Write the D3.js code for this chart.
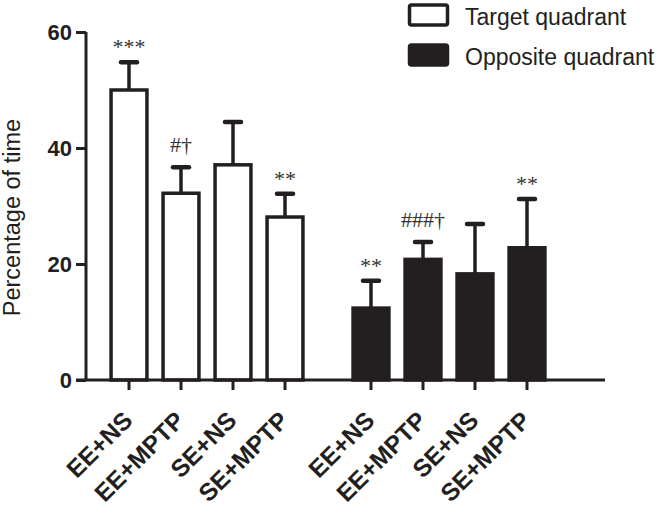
<!DOCTYPE html>
<html>
<head>
  <meta charset="utf-8">
  <script src="https://d3js.org/d3.v7.min.js"></script>
  <style>
    body { margin: 0; background: #fff; }
    svg { font-family: "Liberation Sans", Arial, sans-serif; }
  </style>
</head>
<body>
  <div id="chart"></div>

  <script>
// data
const groups = ["Target quadrant", "Opposite quadrant"];
const categories = ["EE+NS", "EE+MPTP", "SE+NS", "SE+MPTP"];
const targetMeans = [50, 32.2, 37.1, 28.1];
const targetErr = [4.8, 4.5, 7.4, 4.0];
const oppositeMeans = [12.4, 20.8, 18.3, 22.8];
const oppositeErr = [4.7, 3.0, 8.6, 8.4];
const targetMarks = ["***", "#\u2020", "", "**"];
const oppositeMarks = ["**", "###\u2020", "", "**"];
const yTicks = [0, 20, 40, 60];

const rows = [];
groups.forEach((g, gi) => {
  categories.forEach((c, ci) => {
    rows.push({
      group: g,
      cat: c,
      mean: gi === 0 ? targetMeans[ci] : oppositeMeans[ci],
      err: gi === 0 ? targetErr[ci] : oppositeErr[ci],
      mark: gi === 0 ? targetMarks[ci] : oppositeMarks[ci]
    });
  });
});

const width = 656, height = 506;
const axisX = 86, axisY = 380, axisEnd = 605;
const ink = "#231f20";

const svg = d3.select("#chart")
  .append("svg")
  .attr("width", width)
  .attr("height", height);

const y = d3.scaleLinear()
  .domain([0, 60])
  .range([axisY, 32]);

const xGroup = d3.scaleBand()
  .domain(groups)
  .range([103, 553])
  .paddingInner(0.1405)
  .paddingOuter(0);

const xCat = d3.scaleBand()
  .domain(categories)
  .range([0, xGroup.bandwidth()])
  .paddingInner(0.31)
  .paddingOuter(0.155);

const cx = d => xGroup(d.group) + xCat(d.cat) + xCat.bandwidth() / 2;

// bars
svg.selectAll(".bar")
  .data(rows)
  .enter()
  .append("rect")
  .attr("class", "bar")
  .attr("x", d => xGroup(d.group) + xCat(d.cat))
  .attr("y", d => y(d.mean))
  .attr("width", xCat.bandwidth())
  .attr("height", d => y(0) - y(d.mean))
  .attr("fill", d => d.group === groups[0] ? "#fff" : ink)
  .attr("stroke", ink)
  .attr("stroke-width", 3.5);

// error bars (upper only)
svg.selectAll(".err")
  .data(rows)
  .enter()
  .append("line")
  .attr("x1", cx)
  .attr("x2", cx)
  .attr("y1", d => y(d.mean))
  .attr("y2", d => y(d.mean + d.err))
  .attr("stroke", ink)
  .attr("stroke-width", 3.5);

svg.selectAll(".cap")
  .data(rows)
  .enter()
  .append("line")
  .attr("x1", d => cx(d) - 8)
  .attr("x2", d => cx(d) + 8)
  .attr("y1", d => y(d.mean + d.err))
  .attr("y2", d => y(d.mean + d.err))
  .attr("stroke", ink)
  .attr("stroke-width", 4.5)
  .attr("stroke-linecap", "round");

// significance marks
svg.selectAll(".mark")
  .data(rows.filter(d => d.mark))
  .enter()
  .append("text")
  .attr("x", cx)
  .attr("y", d => y(d.mean + d.err) - (d.mark.includes("#") ? 15 : 8))
  .attr("text-anchor", "middle")
  .attr("font-family", "'Liberation Serif', 'DejaVu Serif', serif")
  .attr("font-size", 22)
  .attr("fill", "#333")
  .text(d => d.mark);

// y axis
const yAxis = svg.append("g")
  .attr("transform", `translate(${axisX},0)`)
  .call(d3.axisLeft(y).tickValues(yTicks).tickSize(10).tickPadding(4));
yAxis.select(".domain").attr("d", `M0,${y(60)}V${axisY}`).attr("stroke-width", 3).attr("stroke", ink);
yAxis.selectAll(".tick line").attr("stroke-width", 3).attr("stroke", ink);
yAxis.selectAll(".tick text")
  .attr("font-size", 22)
  .attr("font-weight", "bold")
  .attr("font-family", "'Liberation Sans', Arial, sans-serif")
  .attr("fill", ink)
  .attr("dy", "0.36em");

// x axis
svg.append("line")
  .attr("x1", axisX - 10)
  .attr("x2", axisEnd)
  .attr("y1", axisY)
  .attr("y2", axisY)
  .attr("stroke", ink)
  .attr("stroke-width", 3);

svg.selectAll(".xtick")
  .data(rows)
  .enter()
  .append("line")
  .attr("x1", cx)
  .attr("x2", cx)
  .attr("y1", axisY)
  .attr("y2", axisY + 10)
  .attr("stroke", ink)
  .attr("stroke-width", 3);

svg.selectAll(".xlabel")
  .data(rows)
  .enter()
  .append("text")
  .attr("text-anchor", "end")
  .attr("font-size", 24.5)
  .attr("font-weight", "bold")
  .attr("fill", ink)
  .attr("transform", d => `translate(${cx(d) + 5},${axisY + 42}) rotate(-45)`)
  .text(d => d.cat);

// y label
svg.append("text")
  .attr("text-anchor", "middle")
  .attr("transform", `translate(20,${y(28)}) rotate(-90)`)
  .attr("font-size", 23.5)
  .attr("fill", ink)
  .text("Percentage of time");

// legend
const legend = svg.append("g");
groups.forEach((g, i) => {
  legend.append("rect")
    .attr("x", 409.5)
    .attr("y", 5 + i * 40)
    .attr("width", 38)
    .attr("height", 20)
    .attr("rx", 2)
    .attr("fill", i === 0 ? "#fff" : ink)
    .attr("stroke", ink)
    .attr("stroke-width", 3.5);
  legend.append("text")
    .attr("x", 465)
    .attr("y", 25 + i * 39.5)
    .attr("font-size", 23)
    .attr("fill", ink)
    .text(g);
});
  </script>
</body>
</html>
